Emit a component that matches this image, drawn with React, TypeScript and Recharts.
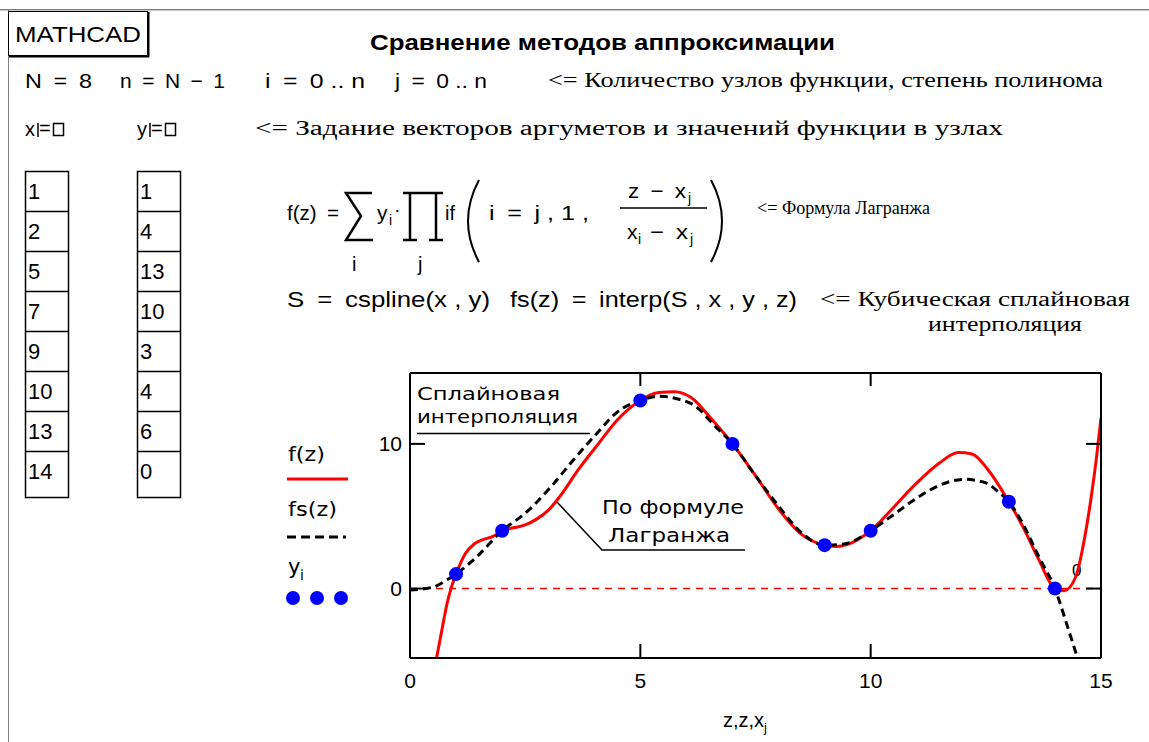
import React from 'react';
import { ComposedChart, Line, Scatter, XAxis, YAxis, ReferenceLine } from 'recharts';

// values
const lagrangeZ = [0.57, 0.69, 0.8, 0.9, 1, 1.2, 1.4, 1.6, 1.8, 2, 2.25, 2.5, 2.75, 3, 3.25, 3.65, 4.1, 4.5, 5, 5.4, 5.75, 6.1, 6.55, 7, 7.5, 8, 8.5, 9, 9.25, 9.5, 10, 10.45, 11, 11.5, 11.9, 12.2, 12.55, 13, 13.3, 13.65, 14, 14.2, 14.45, 14.65, 14.8, 14.9, 15];
const lagrangeF = [-4.9, -2.9, -1.1, 0.1, 1, 2.4, 3.1, 3.4, 3.6, 4, 4.2, 4.4, 4.8, 5.4, 6.35, 8.2, 10.05, 11.65, 13, 13.55, 13.6, 13.2, 11.7, 10, 7.8, 5.5, 3.75, 3, 2.9, 3.05, 4, 5.45, 7.3, 8.7, 9.4, 9.3, 8.2, 6, 4.3, 2, 0, -0.15, 0.8, 3.6, 6.6, 9.0, 11.8];

const splineZ = [0, 0.5, 0.8, 1, 1.45, 2, 2.5, 3.05, 3.55, 4.05, 4.5, 5, 5.4, 5.75, 6.2, 6.6, 7, 7.5, 8, 8.5, 9, 9.45, 10, 10.45, 11, 11.5, 12.05, 12.5, 12.8, 13, 13.3, 13.65, 14, 14.25, 14.5];
const splineF = [-0.1, 0.1, 0.6, 1, 2.2, 4, 5.2, 7.0, 8.9, 10.7, 12.2, 13, 13.3, 13.15, 12.6, 11.3, 10, 7.8, 5.7, 3.85, 3, 3.1, 4, 5.0, 6.25, 7.15, 7.55, 7.3, 6.6, 6, 4.5, 2.2, 0, -2.4, -4.9];

const nodeX = [1, 2, 5, 7, 9, 10, 13, 14];
const nodeY = [1, 4, 13, 10, 3, 4, 6, 0];

const xTicks = [0, 5, 10, 15];
const yTicks = [0, 10];
const xDomain = [0, 15];
const yDomain = [-4.8, 14.9];

const SANS = "'Liberation Sans', Arial, sans-serif";
const WIDE = "'DejaVu Sans', Verdana, sans-serif";
const SERIF = "'Liberation Serif', 'Times New Roman', serif";
const E = '\u2002'; // en space, Mathcad puts wide gaps round operators

const lagrangeData = lagrangeZ.map((z, i) => ({ z, v: lagrangeF[i] }));
const splineData = splineZ.map((z, i) => ({ z, v: splineF[i] }));
const nodeData = nodeX.map((z, i) => ({ z, v: nodeY[i] }));

function T({ x, y, w, size = 21, family = SANS, weight = 'normal', anchor = 'start', children }: any) {
  return (
    <text
      x={x}
      y={y}
      fontSize={size}
      fontFamily={family}
      fontWeight={weight}
      textAnchor={anchor}
      fill="#000"
      textLength={w}
      lengthAdjust={w ? 'spacingAndGlyphs' : undefined}
      style={{ whiteSpace: 'pre' }}
    >
      {children}
    </text>
  );
}

const BottomTick = (p: any) => (
  <g>
    <line x1={p.x} x2={p.x} y1={p.y} y2={p.y - 14} stroke="#000" strokeWidth={2} />
    <text x={p.x} y={p.y + 30} textAnchor="middle" fontSize={21} fontFamily={SANS} fill="#000">
      {p.payload.value}
    </text>
  </g>
);
const TopTick = (p: any) => (
  <line x1={p.x} x2={p.x} y1={p.y} y2={p.y + 13} stroke="#000" strokeWidth={2} />
);
const LeftTick = (p: any) => (
  <g>
    <line x1={p.x} x2={p.x + 15} y1={p.y} y2={p.y} stroke="#000" strokeWidth={2} />
    <text x={p.x - 8} y={p.y + 7.5} textAnchor="end" fontSize={21} fontFamily={SANS} fill="#000">
      {p.payload.value}
    </text>
  </g>
);
const RightTick = (p: any) => (
  <line x1={p.x} x2={p.x - 15} y1={p.y} y2={p.y} stroke="#000" strokeWidth={2} />
);

function Matrix({ x, values }: { x: number; values: number[] }) {
  const top = 171;
  const row = 40;
  return (
    <g>
      <rect x={x + 0.5} y={top + 0.5} width={43} height={326} fill="none" stroke="#000" strokeWidth={1.5} />
      {values.map((v, i) => (
        <g key={i}>
          {i > 0 && <line x1={x} x2={x + 44} y1={top + i * row + 0.5} y2={top + i * row + 0.5} stroke="#000" strokeWidth={1.5} />}
          <T x={x + 3} y={top + i * row + 28} size={22}>{v}</T>
        </g>
      ))}
    </g>
  );
}

function Page() {
  return (
    <svg width={1149} height={742} style={{ position: 'absolute', left: 0, top: 0 }}>
      {/* worksheet frame */}
      <line x1={0} x2={1149} y1={9.5} y2={9.5} stroke="#808080" strokeWidth={1} />
      <line x1={0} x2={1149} y1={10.5} y2={10.5} stroke="#c8c8c8" strokeWidth={1} />
      <line x1={8.5} x2={8.5} y1={10} y2={742} stroke="#808080" strokeWidth={1} />

      <rect x={8.5} y={11.5} width={139} height={44} fill="#fff" stroke="#000" strokeWidth={1} />
      <line x1={9} x2={149} y1={56.5} y2={56.5} stroke="#000" strokeWidth={2} />
      <line x1={148.5} x2={148.5} y1={12} y2={57} stroke="#000" strokeWidth={2} />
      <T x={15} y={42} w={126} size={22}>MATHCAD</T>

      <T x={370} y={50} w={465} size={22} weight="bold">Сравнение методов аппроксимации</T>

      {/* line 1 */}
      <T x={25} y={88} w={67}>{`N${E}=${E}8`}</T>
      <T x={120} y={88} w={105}>{`n${E}=${E}N${E}−${E}1`}</T>
      <T x={265} y={88} w={100}>{`i${E}=${E}0 .. n`}</T>
      <T x={395} y={88} w={92}>{`j${E}=${E}0 .. n`}</T>
      <T x={548} y={87} w={555} size={20} family={SERIF}>{'<= Количество узлов функции, степень полинома'}</T>

      {/* line 2 */}
      <T x={25} y={136} size={20}>x</T>
      <line x1={38} x2={38} y1={123} y2={137} stroke="#000" strokeWidth={1.5} />
      <T x={39} y={135} size={20}>=</T>
      <rect x={53.5} y={123.5} width={10} height={12} fill="none" stroke="#000" strokeWidth={1.5} />
      <T x={137} y={136} size={20}>y</T>
      <line x1={150} x2={150} y1={123} y2={137} stroke="#000" strokeWidth={1.5} />
      <T x={151} y={135} size={20}>=</T>
      <rect x={165.5} y={123.5} width={10} height={12} fill="none" stroke="#000" strokeWidth={1.5} />
      <T x={255} y={135} w={748} size={20} family={SERIF}>{'<= Задание векторов аргуметов и значений функции в узлах'}</T>

      <Matrix x={25} values={nodeX} />
      <Matrix x={137} values={nodeY} />

      {/* Lagrange formula */}
      <T x={287} y={220} w={52}>{`f(z)${E}=`}</T>
      <path d="M372 193 L346 193 L361 216 L346 240 L373 240" fill="none" stroke="#000" strokeWidth={2.5} />
      <T x={352} y={271} size={20}>i</T>
      <T x={377} y={220} size={21}>y</T>
      <T x={389} y={225} size={14}>i</T>
      <T x={394} y={216} size={20}>·</T>
      <path d="M403 193 L443 193 M410 193 L410 240 M436 193 L436 240 M403 240 L417 240 M429 240 L443 240" fill="none" stroke="#000" strokeWidth={2.5} />
      <T x={418} y={271} size={20}>j</T>
      <T x={445} y={220} size={20}>if</T>
      <path d="M479 180 Q 457 221 479 262" fill="none" stroke="#000" strokeWidth={2} />
      <T x={489} y={220} w={100}>{`i${E}=${E}j , 1 ,`}</T>
      <T x={628} y={198} w={58}>{`z${E}−${E}x`}</T>
      <T x={688} y={203} size={14}>j</T>
      <line x1={620} x2={707} y1={208} y2={208} stroke="#000" strokeWidth={1.5} />
      <T x={627} y={239}>x</T>
      <T x={638} y={244} size={14}>i</T>
      <T x={650} y={239} w={38}>{`−${E}x`}</T>
      <T x={690} y={244} size={14}>j</T>
      <path d="M711 180 Q 733 221 711 262" fill="none" stroke="#000" strokeWidth={2} />
      <T x={757} y={214} w={173} size={19} family={SERIF}>{'<= Формула Лагранжа'}</T>

      {/* spline line */}
      <T x={287} y={307} w={203} size={22}>{`S${E}=${E}cspline(x , y)`}</T>
      <T x={510} y={307} w={287} size={22}>{`fs(z)${E}=${E}interp(S , x , y , z)`}</T>
      <T x={820} y={306} w={310} size={20} family={SERIF}>{'<= Кубическая сплайновая'}</T>
      <T x={928} y={331} w={154} size={20} family={SERIF}>интерполяция</T>

      {/* legend of the plot */}
      <T x={288} y={461} w={37} family={WIDE} size={20}>f(z)</T>
      <line x1={287} x2={348} y1={479} y2={479} stroke="#ff0000" strokeWidth={3} />
      <T x={288} y={516} w={49} family={WIDE} size={20}>fs(z)</T>
      <line x1={287} x2={346} y1={537} y2={537} stroke="#000" strokeWidth={3} strokeDasharray="9 5" />
      <T x={288} y={574} size={21} family={WIDE}>y</T>
      <T x={300} y={580} size={14} family={WIDE}>i</T>
      {[293, 317, 341].map((cx) => (
        <circle key={cx} cx={cx} cy={598} r={7} fill="#0000ff" />
      ))}

      {/* annotations inside the plot */}
      <T x={417} y={400} w={143} size={18} family={WIDE}>Сплайновая</T>
      <T x={417} y={423} w={161} size={18} family={WIDE}>интерполяция</T>
      <line x1={417} x2={590} y1={433.5} y2={433.5} stroke="#000" strokeWidth={1.5} />
      <T x={602} y={514} w={142} size={20} family={WIDE}>По формуле</T>
      <T x={608} y={542} w={122} size={20} family={WIDE}>Лагранжа</T>
      <polyline points="557,502 602,550 745,550" fill="none" stroke="#000" strokeWidth={1.5} />
      <T x={1072} y={576} size={17}>0</T>

      <T x={723} y={727} size={20}>z,z,x</T>
      <T x={764} y={732} size={13}>j</T>
    </svg>
  );
}

export default function App() {
  return (
    <div style={{ position: 'absolute', left: 0, top: 0, width: 1149, height: 742, background: '#fff', overflow: 'hidden' }}>
      <Page />
      <div style={{ position: 'absolute', left: 340, top: 360 }}>
        <ComposedChart width={780} height={382} margin={{ top: 12, right: 18, bottom: 0, left: 10 }}>
          <XAxis xAxisId="b" dataKey="z" type="number" domain={xDomain} ticks={xTicks} orientation="bottom" height={84}
            tickSize={0} tickMargin={0} tickLine={false} tick={<BottomTick />} axisLine={{ stroke: '#000', strokeWidth: 2 }} allowDataOverflow />
          <XAxis xAxisId="t" dataKey="z" type="number" domain={xDomain} ticks={xTicks.slice(1, 3)} orientation="top" height={1}
            tickSize={0} tickMargin={0} tickLine={false} tick={<TopTick />} axisLine={{ stroke: '#000', strokeWidth: 2 }} allowDataOverflow />
          <YAxis yAxisId="l" type="number" domain={yDomain} ticks={yTicks} orientation="left" width={60}
            tickSize={0} tickMargin={0} tickLine={false} tick={<LeftTick />} axisLine={{ stroke: '#000', strokeWidth: 2 }} allowDataOverflow />
          <YAxis yAxisId="r" type="number" domain={yDomain} ticks={yTicks} orientation="right" width={1}
            tickSize={0} tickMargin={0} tickLine={false} tick={<RightTick />} axisLine={{ stroke: '#000', strokeWidth: 2 }} allowDataOverflow />
          <ReferenceLine xAxisId="b" yAxisId="l" y={0} stroke="#ff0000" strokeWidth={1.5} strokeDasharray="7 6" />
          <Line xAxisId="b" yAxisId="l" data={lagrangeData} dataKey="v" type="monotone" stroke="#ff0000" strokeWidth={3}
            dot={false} isAnimationActive={false} />
          <Line xAxisId="b" yAxisId="l" data={splineData} dataKey="v" type="monotone" stroke="#000" strokeWidth={3}
            strokeDasharray="8 5" dot={false} isAnimationActive={false} />
          <Scatter xAxisId="b" yAxisId="l" data={nodeData} dataKey="v" isAnimationActive={false}
            shape={(p: any) => <circle cx={p.cx} cy={p.cy} r={7} fill="#0000ff" />} />
          {/* invisible series so the top and right axes are drawn */}
          <Line xAxisId="t" yAxisId="r" data={nodeData} dataKey="v" stroke="none" dot={false} legendType="none" isAnimationActive={false} />
        </ComposedChart>
      </div>
    </div>
  );
}
